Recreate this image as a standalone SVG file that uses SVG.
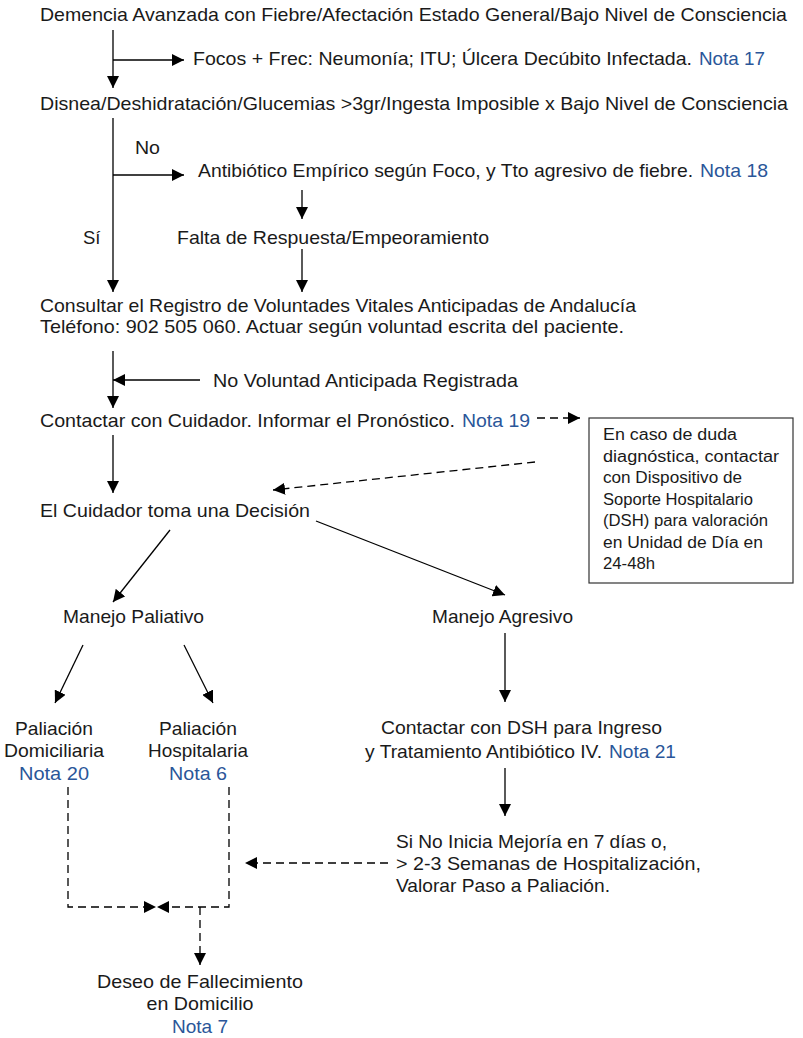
<svg xmlns="http://www.w3.org/2000/svg" width="803" height="1038" viewBox="0 0 803 1038">
<defs>
<marker id="ah" markerUnits="userSpaceOnUse" markerWidth="12" markerHeight="12" refX="12" refY="6" orient="auto">
<path d="M0,0 L12,6 L0,12 z" fill="#000"/>
</marker>
<style>
text{font-family:"Liberation Sans",Arial,sans-serif;font-size:18.5px;fill:#1a1a1a}
.n{fill:#2a5699}
.s{font-size:16px}
.m{text-anchor:middle}
.c{fill:none;stroke:#000;stroke-width:1.3;marker-end:url(#ah)}
.d{stroke-dasharray:8 5}
</style>
</defs>
<rect width="803" height="1038" fill="#fff"/>
<g id="connectors">
<path class="c" d="M113,30 V88"/>
<path class="c" d="M113,60 H184"/>
<path class="c" d="M113,118 V292"/>
<path class="c" d="M113,175 H184"/>
<path class="c" d="M302,190 V219"/>
<path class="c" d="M302,249 V292"/>
<path class="c" d="M113,351 V408"/>
<path class="c" d="M200,380 H113"/>
<path class="c" d="M113,435 V493"/>
<path class="c d" d="M537,418 H580"/>
<path class="c d" d="M535,462 L273,490"/>
<path class="c" d="M170,530 L113,602"/>
<path class="c" d="M316,521 L505,595"/>
<path class="c" d="M505,633 V702"/>
<path class="c" d="M83,645 L55,703"/>
<path class="c" d="M184,645 L213,703"/>
<path class="c" d="M505,768 V816"/>
<path class="c d" d="M388,863 H245"/>
<path class="c d" d="M68,787 V907 H156"/>
<path class="c d" d="M229,787 V907 H157"/>
<path class="c d" d="M200,907 V965"/>
</g>
<g id="n1"><text x="40" y="21" textLength="747" lengthAdjust="spacingAndGlyphs">Demencia Avanzada con Fiebre/Afectación Estado General/Bajo Nivel de Consciencia</text></g>
<g id="n2"><text x="193" y="65" textLength="499" lengthAdjust="spacingAndGlyphs">Focos + Frec: Neumonía; ITU; Úlcera Decúbito Infectada.</text><text class="n" x="699" y="65" textLength="66" lengthAdjust="spacingAndGlyphs">Nota 17</text></g>
<g id="n3"><text x="40" y="110" textLength="748" lengthAdjust="spacingAndGlyphs">Disnea/Deshidratación/Glucemias &gt;3gr/Ingesta Imposible x Bajo Nivel de Consciencia</text></g>
<g id="lbl-no"><text x="135" y="154" textLength="25" lengthAdjust="spacingAndGlyphs">No</text></g>
<g id="n4"><text x="198" y="177" textLength="495" lengthAdjust="spacingAndGlyphs">Antibiótico Empírico según Foco, y Tto agresivo de fiebre.</text><text class="n" x="700" y="177" textLength="68" lengthAdjust="spacingAndGlyphs">Nota 18</text></g>
<g id="n5"><text x="177" y="244" textLength="312" lengthAdjust="spacingAndGlyphs">Falta de Respuesta/Empeoramiento</text></g>
<g id="lbl-si"><text x="83" y="244">Sí</text></g>
<g id="n6"><text x="40" y="312" textLength="596" lengthAdjust="spacingAndGlyphs">Consultar el Registro de Voluntades Vitales Anticipadas de Andalucía</text><text x="40" y="333" textLength="584" lengthAdjust="spacingAndGlyphs">Teléfono: 902 505 060. Actuar según voluntad escrita del paciente.</text></g>
<g id="n7"><text x="213" y="387" textLength="305" lengthAdjust="spacingAndGlyphs">No Voluntad Anticipada Registrada</text></g>
<g id="n8"><text x="40" y="427" textLength="415" lengthAdjust="spacingAndGlyphs">Contactar con Cuidador. Informar el Pronóstico.</text><text class="n" x="462" y="427" textLength="68" lengthAdjust="spacingAndGlyphs">Nota 19</text></g>
<g id="n9">
<rect x="589" y="418" width="204" height="165" fill="#fff" stroke="#333" stroke-width="1.2"/>
<text class="s" x="603" y="440" textLength="134" lengthAdjust="spacingAndGlyphs">En caso de duda</text>
<text class="s" x="603" y="461.5" textLength="176" lengthAdjust="spacingAndGlyphs">diagnóstica, contactar</text>
<text class="s" x="603" y="483" textLength="139" lengthAdjust="spacingAndGlyphs">con Dispositivo de</text>
<text class="s" x="603" y="504.5" textLength="150" lengthAdjust="spacingAndGlyphs">Soporte Hospitalario</text>
<text class="s" x="603" y="526" textLength="165" lengthAdjust="spacingAndGlyphs">(DSH) para valoración</text>
<text class="s" x="603" y="547.5" textLength="160" lengthAdjust="spacingAndGlyphs">en Unidad de Día en</text>
<text class="s" x="603" y="569" textLength="52" lengthAdjust="spacingAndGlyphs">24-48h</text>
</g>
<g id="n10"><text x="40" y="517" textLength="270" lengthAdjust="spacingAndGlyphs">El Cuidador toma una Decisión</text></g>
<g id="n11"><text x="63" y="623" textLength="141" lengthAdjust="spacingAndGlyphs">Manejo Paliativo</text></g>
<g id="n12"><text x="432" y="623" textLength="141" lengthAdjust="spacingAndGlyphs">Manejo Agresivo</text></g>
<g id="n13">
<text class="m" x="54" y="735" textLength="78" lengthAdjust="spacingAndGlyphs">Paliación</text>
<text class="m" x="54" y="757" textLength="100" lengthAdjust="spacingAndGlyphs">Domiciliaria</text>
<text class="m n" x="54" y="780" textLength="70" lengthAdjust="spacingAndGlyphs">Nota 20</text>
</g>
<g id="n14">
<text class="m" x="198" y="735" textLength="78" lengthAdjust="spacingAndGlyphs">Paliación</text>
<text class="m" x="198" y="757" textLength="100" lengthAdjust="spacingAndGlyphs">Hospitalaria</text>
<text class="m n" x="198" y="780" textLength="58" lengthAdjust="spacingAndGlyphs">Nota 6</text>
</g>
<g id="n15">
<text x="381" y="734" textLength="281" lengthAdjust="spacingAndGlyphs">Contactar con DSH para Ingreso</text>
<text x="365" y="758" textLength="237" lengthAdjust="spacingAndGlyphs">y Tratamiento Antibiótico IV.</text>
<text class="n" x="609" y="758" textLength="67" lengthAdjust="spacingAndGlyphs">Nota 21</text>
</g>
<g id="n16">
<text x="396" y="848" textLength="271" lengthAdjust="spacingAndGlyphs">Si No Inicia Mejoría en 7 días o,</text>
<text x="396" y="870" textLength="305" lengthAdjust="spacingAndGlyphs">&gt; 2-3 Semanas de Hospitalización,</text>
<text x="396" y="892" textLength="214" lengthAdjust="spacingAndGlyphs">Valorar Paso a Paliación.</text>
</g>
<g id="n17">
<text class="m" x="200" y="988" textLength="206" lengthAdjust="spacingAndGlyphs">Deseo de Fallecimiento</text>
<text class="m" x="200" y="1010" textLength="107" lengthAdjust="spacingAndGlyphs">en Domicilio</text>
<text class="m n" x="200" y="1033" textLength="56" lengthAdjust="spacingAndGlyphs">Nota 7</text>
</g>
</svg>
